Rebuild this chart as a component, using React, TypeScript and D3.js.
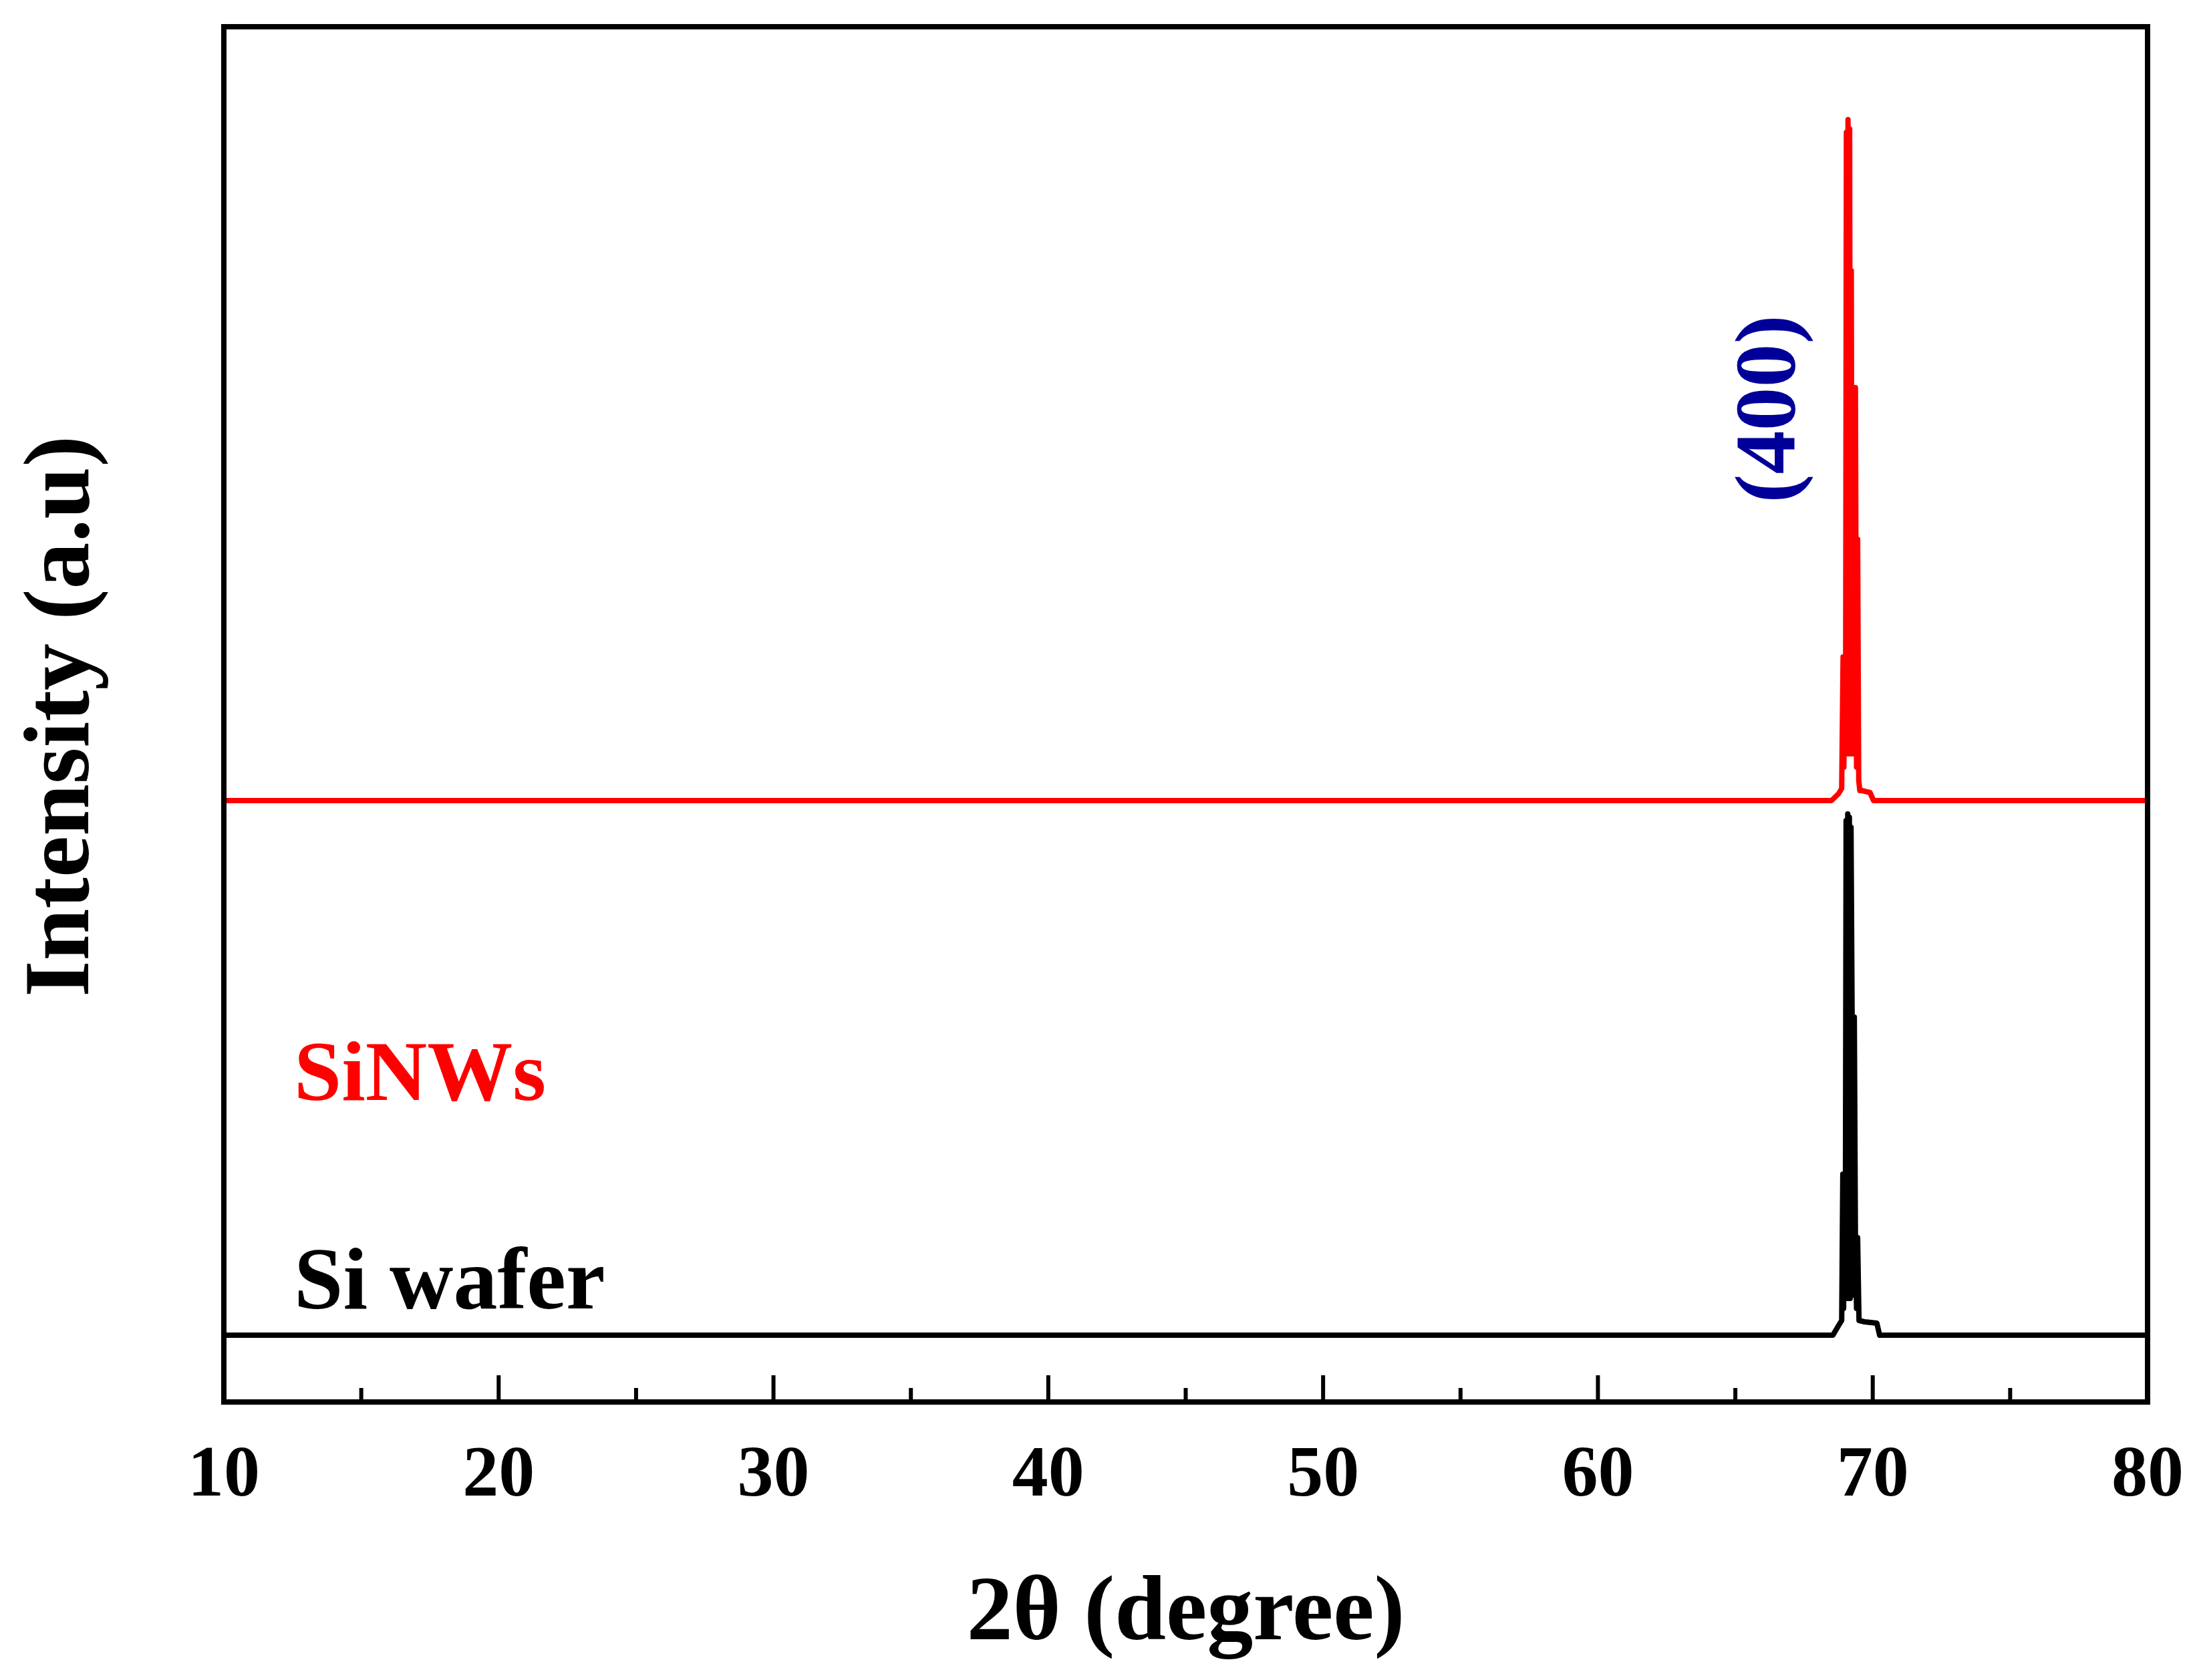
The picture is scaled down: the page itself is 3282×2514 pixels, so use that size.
import React from "react";
import * as d3 from "d3";

// ---- data ----
const xTicksMajor = [10, 20, 30, 40, 50, 60, 70, 80];
const xTicksMinor = [15, 25, 35, 45, 55, 65, 75];

// Si wafer pattern (2θ in degrees, intensity a.u.)
const waferTheta = [10, 68.55, 68.75, 68.87, 68.91, 68.94, 68.97, 69.0, 69.03, 69.06, 69.09, 69.12, 69.15, 69.18, 69.21, 69.25, 69.29, 69.33, 69.37, 69.41, 69.45, 69.5, 69.7, 70.15, 70.25, 80];
const waferIntensity = [0, 0, 14, 22, 241, 40, 241, 60, 770, 55, 780, 55, 775, 55, 760, 476, 60, 476, 146, 40, 146, 22, 20, 18, 0, 0];

// SiNWs pattern (2θ in degrees, intensity a.u., before offset)
const nwTheta = [10, 68.5, 68.75, 68.87, 68.92, 68.95, 68.98, 69.01, 69.04, 69.07, 69.1, 69.13, 69.16, 69.19, 69.22, 69.25, 69.29, 69.33, 69.37, 69.41, 69.45, 69.49, 69.53, 69.6, 69.9, 70.03, 80];
const nwIntensity = [0, 0, 10, 18, 215, 50, 215, 70, 1000, 70, 1019, 70, 1005, 70, 793, 70, 618, 70, 618, 50, 391, 30, 15, 15, 12, 0, 0];
const nwOffset = 800;

const W = 3282;
const H = 2514;
const M = { left: 335, right: 3214, top: 40, bottom: 2098 };

export default function App() {
  const x = d3.scaleLinear().domain([10, 80]).range([M.left, M.right]);
  const y = d3.scaleLinear().domain([-100, 1958]).range([M.bottom, M.top]);

  const line = d3
    .line<[number, number]>()
    .x((d) => x(d[0]))
    .y((d) => y(d[1]));

  const wafer: [number, number][] = waferTheta.map((t, i) => [t, waferIntensity[i]]);
  const nw: [number, number][] = nwTheta.map((t, i) => [t, nwIntensity[i] + nwOffset]);

  const font = "'Liberation Serif', 'Times New Roman', serif";

  return (
    <svg
      width={W}
      height={H}
      viewBox={`0 0 ${W} ${H}`}
      style={{ position: "absolute", left: 0, top: 0, background: "#fff" }}
    >
      <rect x={0} y={0} width={W} height={H} fill="#fff" />
      <path d={line(wafer) || ""} fill="none" stroke="#000" strokeWidth={8} strokeLinejoin="round" />
      <path d={line(nw) || ""} fill="none" stroke="#ff0000" strokeWidth={8} strokeLinejoin="round" />

      {/* frame */}
      <rect
        x={M.left}
        y={M.top}
        width={M.right - M.left}
        height={M.bottom - M.top}
        fill="none"
        stroke="#000"
        strokeWidth={8}
      />

      {/* ticks */}
      {xTicksMajor.map((t) => (
        <line key={"M" + t} x1={x(t)} x2={x(t)} y1={M.bottom} y2={M.bottom - 40} stroke="#000" strokeWidth={6} />
      ))}
      {xTicksMinor.map((t) => (
        <line key={"m" + t} x1={x(t)} x2={x(t)} y1={M.bottom} y2={M.bottom - 21} stroke="#000" strokeWidth={6} />
      ))}
      {xTicksMajor.map((t) => (
        <text
          key={"l" + t}
          x={x(t)}
          y={2238}
          textAnchor="middle"
          fontFamily={font}
          fontWeight="bold"
          fontSize={108}
          fill="#000"
        >
          {t}
        </text>
      ))}

      {/* axis titles */}
      <text x={(M.left + M.right) / 2} y={2453} textAnchor="middle" fontFamily={font} fontWeight="bold" fontSize={138} fill="#000">
        2θ (degree)
      </text>
      <text
        transform={`translate(132, ${1072}) rotate(-90)`}
        textAnchor="middle"
        fontFamily={font}
        fontWeight="bold"
        fontSize={140}
        fill="#000"
      >
        Intensity (a.u)
      </text>

      {/* annotations */}
      <text
        transform={`translate(2686, ${612}) rotate(-90)`}
        textAnchor="middle"
        fontFamily={font}
        fontWeight="bold"
        fontSize={130}
        fill="#000099"
      >
        (400)
      </text>
      <text x={440} y={1646} fontFamily={font} fontWeight="bold" fontSize={128} fill="#ff0000">
        SiNWs
      </text>
      <text x={440} y={1958} fontFamily={font} fontWeight="bold" fontSize={132} fill="#000">
        Si wafer
      </text>
    </svg>
  );
}
